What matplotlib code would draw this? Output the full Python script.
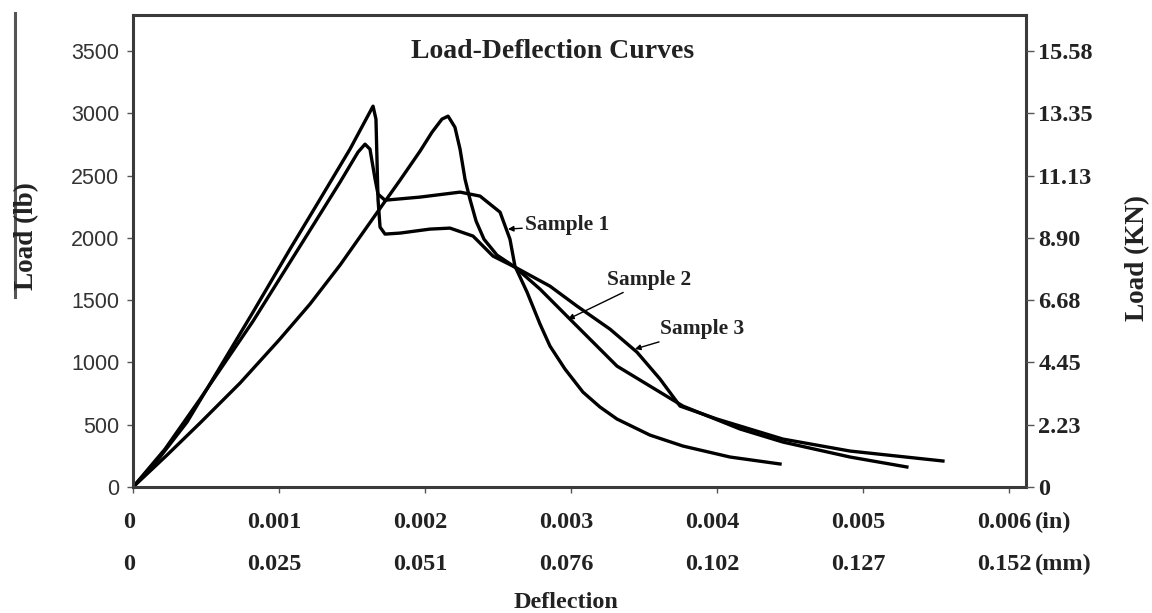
import numpy as np
import matplotlib.pyplot as plt
from matplotlib.lines import Line2D

# Load-deflection data (deflection in inches, load in lb)
s1_defl = [0, 0.000219, 0.000459, 0.000822, 0.001144, 0.001418, 0.001541, 0.001589,
           0.001623, 0.001658, 0.001678, 0.001726, 0.001966, 0.00224, 0.002377,
           0.002514, 0.002582, 0.002616, 0.002699, 0.002788, 0.002856, 0.002959,
           0.003082, 0.003199, 0.003315, 0.003541, 0.003767, 0.004089, 0.004432]
s1_load = [0, 305, 706, 1332, 1934, 2448, 2689, 2753,
           2713, 2472, 2352, 2303, 2328, 2368, 2336,
           2207, 1990, 1774, 1565, 1308, 1132, 947,
           762, 642, 546, 417, 329, 241, 185]

s2_defl = [0, 0.000185, 0.00037, 0.000596, 0.000822, 0.001075, 0.001281, 0.001486,
           0.001644, 0.001664, 0.001678, 0.001692, 0.001726, 0.001829, 0.002034,
           0.002171, 0.002329, 0.002466, 0.002616, 0.002788, 0.002993, 0.003315,
           0.003767, 0.004158, 0.004452, 0.004911, 0.005301]
s2_load = [0, 241, 522, 963, 1405, 1910, 2311, 2713,
           3058, 2954, 2311, 2087, 2031, 2039, 2071,
           2079, 2015, 1854, 1766, 1589, 1348, 971,
           650, 466, 361, 241, 161]

s3_defl = [0, 0.000226, 0.000459, 0.000733, 0.001, 0.001212, 0.001418, 0.001664,
           0.001829, 0.001966, 0.002048, 0.002116, 0.002158, 0.002205, 0.00224,
           0.002274, 0.002308, 0.00235, 0.002404, 0.002493, 0.002616, 0.002856,
           0.003041, 0.003267, 0.003452, 0.00361, 0.003747, 0.004, 0.004452,
           0.004911, 0.005548]
s3_load = [0, 249, 514, 835, 1180, 1469, 1782, 2191,
           2464, 2697, 2849, 2954, 2978, 2889, 2713,
           2472, 2311, 2135, 1990, 1862, 1766, 1613,
           1453, 1268, 1083, 867, 650, 546, 385,
           289, 209]

lb_ticks = [0, 500, 1000, 1500, 2000, 2500, 3000, 3500]
kn_labels = ['0', '2.23', '4.45', '6.68', '8.90', '11.13', '13.35', '15.58']
in_ticks = [0, 0.001, 0.002, 0.003, 0.004, 0.005, 0.006]
in_labels = ['0', '0.001', '0.002', '0.003', '0.004', '0.005', '0.006']
mm_labels = ['0', '0.025', '0.051', '0.076', '0.102', '0.127', '0.152']

serif = 'Liberation Serif'

fig = plt.figure(figsize=(11.52, 6.13), dpi=100)
ax = fig.add_axes([0.1155, 0.2055, 0.775, 0.770])

for xs, ys in [(s1_defl, s1_load), (s2_defl, s2_load), (s3_defl, s3_load)]:
    ax.plot(xs, ys, color='black', lw=2.4, solid_joinstyle='round')

ax.set_xlim(0, 0.006116)
ax.set_ylim(0, 3790)

for sp in ax.spines.values():
    sp.set_color('#3a3a3a')
    sp.set_linewidth(2.2)

# left axis: lb
ax.set_yticks(lb_ticks)
ax.set_yticklabels([str(v) for v in lb_ticks], family='Liberation Sans',
                   fontsize=15.5, color='#333333')
ax.tick_params(axis='y', length=4, width=1, color='#555555', pad=6)

# right axis: kN, same positions
ax2 = ax.twinx()
ax2.set_ylim(ax.get_ylim())
ax2.set_yticks(lb_ticks)
ax2.set_yticklabels(kn_labels, family=serif, fontweight='bold', fontsize=17.5,
                    color='#222222')
ax2.tick_params(axis='y', length=6, width=1, color='#555555', pad=3)
for sp in ax2.spines.values():
    sp.set_visible(False)

# bottom axis: two rows of labels
ax.set_xticks(in_ticks)
ax.set_xticklabels([''] * len(in_ticks))
ax.tick_params(axis='x', length=4, width=1, color='#555555')
tr = ax.get_xaxis_transform()
lab = dict(family=serif, fontweight='bold', fontsize=17.5, color='#222222', clip_on=False)
for x, a, b in zip(in_ticks, in_labels, mm_labels):
    ax.text(x - 0.00003, -0.076, a, transform=tr, ha='center', va='center', **lab)
    ax.text(x - 0.00003, -0.165, b, transform=tr, ha='center', va='center', **lab)
ax.text(0.00618, -0.076, '(in)', transform=tr, ha='left', va='center', **lab)
ax.text(0.00618, -0.165, '(mm)', transform=tr, ha='left', va='center', **lab)
ax.text(0.485, -0.245, 'Deflection', transform=ax.transAxes, ha='center', va='center', **lab)

ax.text(0.47, 0.922, 'Load-Deflection Curves', transform=ax.transAxes,
        ha='center', va='center', family=serif, fontweight='bold', fontsize=20,
        color='#222222')

# axis titles
fig.text(27 / 1152, 1 - 236 / 613, 'Load (lb)', rotation=90, ha='center', va='center',
         family=serif, fontweight='bold', fontsize=19.5, color='#222222')
fig.text(1138 / 1152, 1 - 258 / 613, 'Load (KN)', rotation=90, ha='center', va='center',
         family=serif, fontweight='bold', fontsize=19.5, color='#222222')
fig.add_artist(Line2D([15 / 1152, 15 / 1152], [1 - 13 / 613, 1 - 297 / 613],
                      color='#555555', lw=2.2))

# sample callouts
arrow = dict(arrowstyle='-|>', color='black', lw=1, mutation_scale=8, shrinkA=0, shrinkB=0)
note = dict(ha='left', va='center', family=serif, fontweight='bold', fontsize=15.5,
            color='#222222', arrowprops=arrow)
ax.annotate('Sample 1', xy=(0.002568, 2071), xytext=(0.002685, 2100), **note)
ax.annotate('Sample 2', xy=(0.00298, 1348), xytext=(0.00325, 1665), **note)
ax.annotate('Sample 3', xy=(0.003438, 1108), xytext=(0.00361, 1268), **note)

fig.savefig('out.png', dpi=100)
